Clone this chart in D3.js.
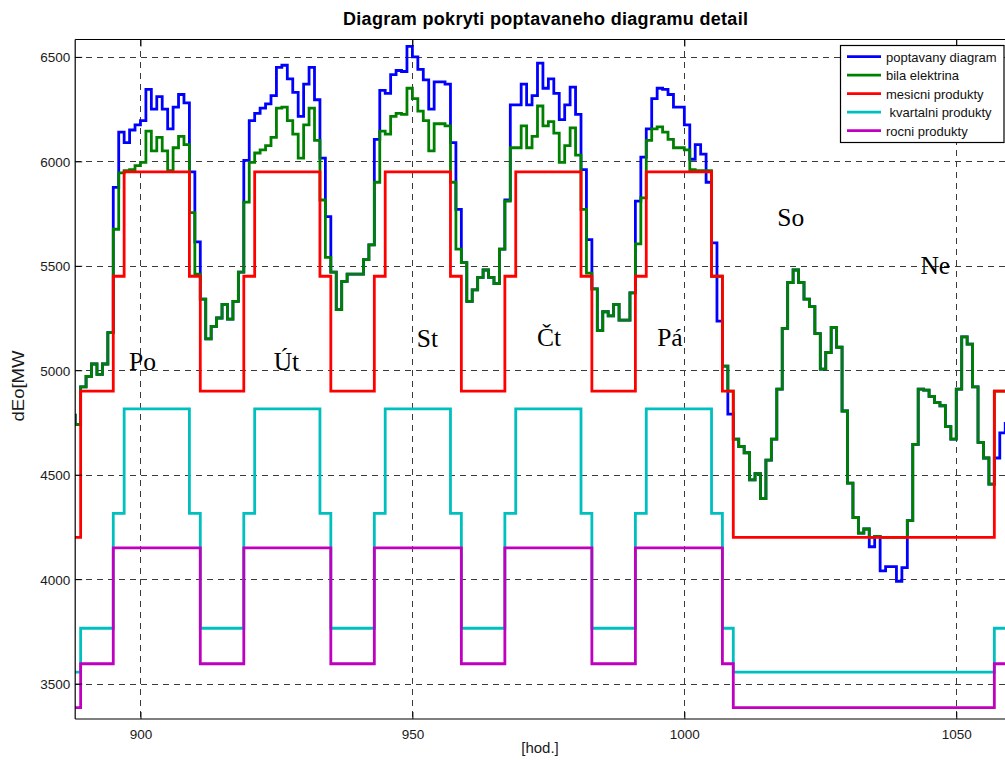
<!DOCTYPE html>
<html>
<head>
<meta charset="utf-8">
<script src="https://cdn.jsdelivr.net/npm/d3@7"></script>
<style>
  html, body { margin: 0; padding: 0; background: #ffffff; }
  svg { display: block; }
  text { font-family: "Liberation Sans", Arial, sans-serif; }
</style>
</head>
<body>
<svg id="chart" width="1005" height="760"></svg>
<script>
// Hourly series, first value belongs to hour 887, one value per hour
const firstHour = 887;

const poptavanyDiagram = [
  4785, 4740, 4920, 4970, 5030, 4980, 5030, 5180, 5875, 6140,
  6090, 6150, 6175, 6195, 6345, 6250, 6310, 6250, 6155, 6260,
  6320, 6280, 5950, 5615, 5340, 5150, 5210, 5250, 5315, 5245,
  5330, 5470, 6005, 6195, 6230, 6255, 6275, 6315, 6450, 6460,
  6395, 6330, 6215, 6370, 6450, 6295, 6015, 5735, 5470, 5290,
  5425, 5460, 5460, 5460, 5530, 5600, 6105, 6340, 6325, 6415,
  6435, 6430, 6550, 6500, 6440, 6390, 6250, 6380, 6380, 6370,
  6090, 5770, 5515, 5330, 5385, 5445, 5480, 5445, 5415, 5580,
  5815, 6270, 6270, 6370, 6270, 6315, 6470, 6350, 6395, 6325,
  6200, 6270, 6355, 6225, 5960, 5625, 5390, 5190, 5280, 5260,
  5315, 5240, 5240, 5370, 5810, 6020, 6155, 6300, 6350, 6345,
  6320, 6260, 6260, 6175, 6010, 6080, 6035, 5900, 5610, 5235,
  5020, 4790, 4670, 4635, 4605, 4475, 4505, 4385, 4570, 4670,
  4910, 5200, 5420, 5480, 5420, 5340, 5305, 5175, 5005, 5085,
  5205, 5110, 4805, 4460, 4295, 4220, 4240, 4155, 4205, 4040,
  4060, 4060, 3990, 4055, 4280, 4645, 4910, 4905, 4875, 4845,
  4830, 4730, 4670, 4910, 5160, 5125, 4920, 4655, 4580, 4455,
  4580, 4700, 4745, 4745
];

const bilaElektrina = [
  4785, 4740, 4920, 4970, 5030, 4980, 5030, 5180, 5675, 5945,
  5955, 5960, 5980, 5995, 6145, 6050, 6115, 6050, 5955, 6065,
  6120, 6080, 5755, 5460, 5340, 5150, 5210, 5250, 5315, 5245,
  5330, 5470, 5805, 5995, 6040, 6055, 6075, 6115, 6255, 6260,
  6195, 6130, 6015, 6175, 6255, 6100, 5815, 5540, 5470, 5290,
  5425, 5460, 5460, 5460, 5530, 5600, 5900, 6145, 6130, 6215,
  6230, 6225, 6350, 6300, 6240, 6195, 6050, 6180, 6180, 6170,
  5900, 5580, 5515, 5330, 5385, 5445, 5480, 5445, 5415, 5580,
  5810, 6065, 6065, 6170, 6065, 6120, 6265, 6170, 6190, 6135,
  5995, 6075, 6160, 6030, 5770, 5465, 5390, 5190, 5280, 5260,
  5315, 5240, 5240, 5370, 5605, 5825, 6100, 6155, 6165, 6140,
  6105, 6065, 6065, 6055, 5960, 5955, 5955, 5955, 5450, 5450,
  5020, 4900, 4670, 4635, 4605, 4475, 4505, 4385, 4570, 4670,
  4910, 5200, 5420, 5480, 5420, 5340, 5305, 5175, 5005, 5085,
  5205, 5110, 4805, 4460, 4295, 4220, 4240, 4200, 4205, 4200,
  4200, 4200, 4200, 4200, 4280, 4645, 4910, 4905, 4875, 4845,
  4830, 4730, 4670, 4910, 5160, 5125, 4920, 4655, 4580, 4455,
  4900, 4900, 4900, 4900
];

// Product blocks: hour where a level starts, and the level
const mesicniHours  = [887, 889, 895, 897, 909, 911, 919, 921, 933, 935, 943, 945, 957, 959, 967, 969, 981, 983, 991, 993, 1005, 1007, 1009, 1057];
const mesicniValues = [4200, 4900, 5450, 5950, 5450, 4900, 5450, 5950, 5450, 4900, 5450, 5950, 5450, 4900, 5450, 5950, 5450, 4900, 5450, 5950, 5450, 4900, 4200, 4900];

const kvartalniHours  = [887, 889, 895, 897, 909, 911, 919, 921, 933, 935, 943, 945, 957, 959, 967, 969, 981, 983, 991, 993, 1005, 1007, 1009, 1057];
const kvartalniValues = [3555, 3765, 4315, 4815, 4315, 3765, 4315, 4815, 4315, 3765, 4315, 4815, 4315, 3765, 4315, 4815, 4315, 3765, 4315, 4815, 4315, 3765, 3555, 3765];

const rocniHours  = [887, 889, 895, 911, 919, 935, 943, 959, 967, 983, 991, 1007, 1009, 1057];
const rocniValues = [3385, 3595, 4150, 3595, 4150, 3595, 4150, 3595, 4150, 3595, 4150, 3595, 3385, 3595];

const lastHour = 1061;

const xTicks = [900, 950, 1000, 1050];
const yTicks = [3500, 4000, 4500, 5000, 5500, 6000, 6500];

const dayNames = ["Po", "Út", "St", "Čt", "Pá", "So", "Ne"];
const dayHours = [897.9, 924.5, 950.8, 972.9, 995.0, 1017.1, 1043.4];
const dayLevels = [5000, 5000, 5113, 5115, 5114, 5690, 5461];

const seriesNames = ["poptavany diagram", "bila elektrina", "mesicni produkty", " kvartalni produkty", "rocni produkty"];
const seriesColors = ["#0000ff", "#008000", "#ff0000", "#00bfbf", "#bf00bf"];

// ---------------------------------------------------------------
const svg = d3.select("#chart");
const plot = { left: 75.2, right: 1016.1, top: 39.5, bottom: 719 };

const x = d3.scaleLinear().domain([888, 1061]).range([plot.left, plot.right]);
const y = d3.scaleLinear().domain([3330.5, 6583.3]).range([plot.bottom, plot.top]);

svg.append("defs").append("clipPath").attr("id", "plotClip")
  .append("rect")
  .attr("x", plot.left).attr("y", plot.top)
  .attr("width", plot.right - plot.left).attr("height", plot.bottom - plot.top);

// Grid
const grid = svg.append("g").attr("stroke", "#3a3a3a").attr("stroke-width", 1)
  .attr("stroke-dasharray", "6,5").attr("shape-rendering", "crispEdges");
grid.selectAll(".gx").data(xTicks).join("line")
  .attr("x1", d => Math.round(x(d)) + 0.5).attr("x2", d => Math.round(x(d)) + 0.5)
  .attr("y1", plot.top).attr("y2", plot.bottom);
grid.selectAll(".gy").data(yTicks).join("line")
  .attr("y1", d => Math.round(y(d)) + 0.5).attr("y2", d => Math.round(y(d)) + 0.5)
  .attr("x1", plot.left).attr("x2", plot.right);

// Series as stairs
function hourlyPoints(values) {
  const pts = values.map((v, i) => [firstHour + i, v]);
  pts.push([firstHour + values.length, values[values.length - 1]]);
  return pts;
}
function blockPoints(hours, values) {
  const pts = hours.map((h, i) => [h, values[i]]);
  pts.push([lastHour, values[values.length - 1]]);
  return pts;
}

const stairs = d3.line().x(d => x(d[0])).y(d => y(d[1])).curve(d3.curveStepAfter);

const seriesData = [
  hourlyPoints(poptavanyDiagram),
  hourlyPoints(bilaElektrina),
  blockPoints(mesicniHours, mesicniValues),
  blockPoints(kvartalniHours, kvartalniValues),
  blockPoints(rocniHours, rocniValues)
];

const lines = svg.append("g").attr("clip-path", "url(#plotClip)");
seriesData.forEach((pts, i) => {
  lines.append("path")
    .attr("d", stairs(pts))
    .attr("fill", "none")
    .attr("stroke", seriesColors[i])
    .attr("stroke-width", 2.8)
    .attr("stroke-linejoin", "miter");
});

// Axes box
const box = svg.append("g").attr("stroke", "#000").attr("stroke-width", 1.2).attr("fill", "none");
box.append("line").attr("x1", plot.left).attr("x2", plot.left).attr("y1", plot.top).attr("y2", plot.bottom);
box.append("line").attr("x1", plot.left).attr("x2", plot.right).attr("y1", plot.bottom).attr("y2", plot.bottom);
box.append("line").attr("x1", plot.left).attr("x2", plot.right).attr("y1", plot.top).attr("y2", plot.top);

// Inward ticks
const bottomAxis = d3.axisBottom(x).tickValues(xTicks).tickSize(-7).tickFormat(d3.format("d")).tickPadding(10);
const leftAxis = d3.axisLeft(y).tickValues(yTicks).tickSize(-7).tickFormat(d3.format("d")).tickPadding(5);
const topAxis = d3.axisTop(x).tickValues(xTicks).tickSize(-7).tickFormat("");

function styleAxis(g) {
  g.select(".domain").remove();
  g.selectAll(".tick line").attr("stroke", "#000").attr("stroke-width", 1);
  g.selectAll(".tick text").attr("fill", "#1a1a1a").style("font-size", "13.5px")
    .style("font-family", "'Liberation Sans', Arial, sans-serif");
}
svg.append("g").attr("transform", `translate(0,${plot.bottom})`).call(bottomAxis).call(styleAxis)
  .selectAll(".tick text").attr("dy", "0.71em");
svg.append("g").attr("transform", `translate(${plot.left},0)`).call(leftAxis).call(styleAxis)
  .selectAll(".tick text").attr("dy", "0.36em");
svg.append("g").attr("transform", `translate(0,${plot.top})`).call(topAxis).call(styleAxis);

// Day labels
svg.append("g").selectAll("text").data(dayNames).join("text")
  .attr("x", (d, i) => x(dayHours[i]))
  .attr("y", (d, i) => y(dayLevels[i]))
  .style("font-family", "'Liberation Serif', 'Times New Roman', serif")
  .style("font-size", "25.5px")
  .attr("fill", "#000")
  .text(d => d);

// Title and axis labels
svg.append("text")
  .attr("x", 545.5).attr("y", 25)
  .attr("text-anchor", "middle")
  .style("font-size", "18px").style("font-weight", "bold")
  .attr("textLength", 405).attr("lengthAdjust", "spacing")
  .attr("fill", "#000")
  .text("Diagram pokryti poptavaneho diagramu detail");

svg.append("text")
  .attr("x", 540).attr("y", 753)
  .attr("text-anchor", "middle")
  .style("font-size", "15px")
  .attr("fill", "#1a1a1a")
  .text("[hod.]");

svg.append("text")
  .attr("transform", "translate(24,386) rotate(-90)")
  .attr("text-anchor", "middle")
  .style("font-size", "16px")
  .attr("textLength", 71).attr("lengthAdjust", "spacingAndGlyphs")
  .attr("fill", "#1a1a1a")
  .text("dEo[MW");

// Legend
const legend = svg.append("g");
legend.append("rect")
  .attr("x", 840.5).attr("y", 45.5).attr("width", 163.5).attr("height", 97)
  .attr("fill", "#fff").attr("stroke", "#000").attr("stroke-width", 1.2);
const rowY = d => 56.7 + d * 18.5;
seriesNames.forEach((name, i) => {
  legend.append("line")
    .attr("x1", 847).attr("x2", 881)
    .attr("y1", rowY(i)).attr("y2", rowY(i))
    .attr("stroke", seriesColors[i]).attr("stroke-width", 2.8);
  legend.append("text")
    .attr("x", 886).attr("y", rowY(i) + 5)
    .style("font-size", "13px").style("white-space", "pre")
    .attr("fill", "#111")
    .text(name);
});
</script>
</body>
</html>
